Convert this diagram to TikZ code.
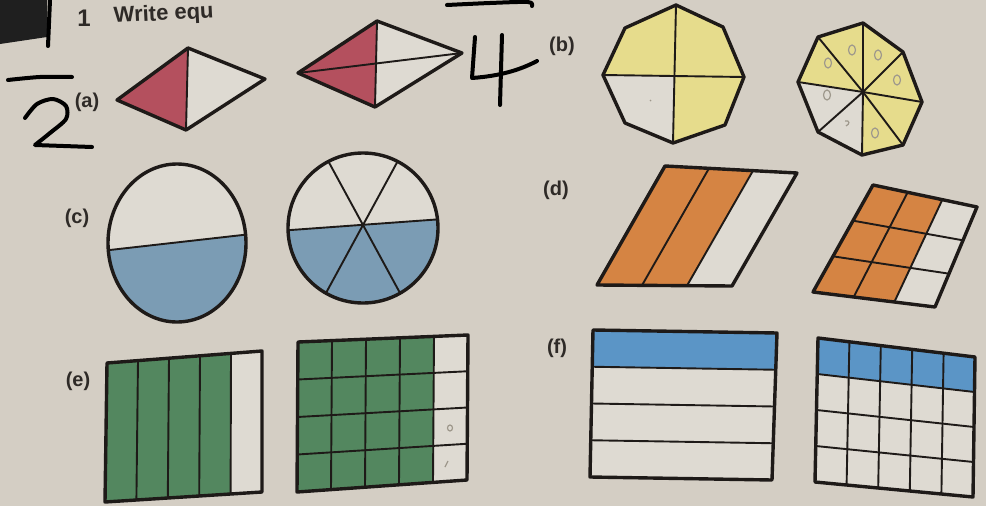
\documentclass[tikz,border=0pt]{standalone}
\usepackage{fontspec}
\setmainfont{Liberation Sans}
\usetikzlibrary{calc}
\definecolor{paper}{HTML}{D4CEC4}
\definecolor{cellw}{HTML}{DEDAD2}
\definecolor{ink}{HTML}{1E1A18}
\definecolor{rosered}{HTML}{B4505E}
\definecolor{octyel}{HTML}{E6DC8C}
\definecolor{cblue}{HTML}{7B9CB4}
\definecolor{dorange}{HTML}{D58443}
\definecolor{egreen}{HTML}{53875F}
\definecolor{fblue}{HTML}{5B95C6}
\definecolor{labelc}{HTML}{2E2A27}
\definecolor{pencil}{HTML}{9E988C}
\newcommand\mkgrid[3]{%
  \foreach \i in {0,...,#2}{\foreach \j in {0,...,#3}{%
    \pgfmathsetmacro\uu{\i/#2}\pgfmathsetmacro\vv{\j/#3}%
    \coordinate (#1-\i-\j) at ($($(#1TL)!\uu!(#1TR)$)!\vv!($(#1BL)!\uu!(#1BR)$)$);}}}
\begin{document}
\begin{tikzpicture}[x=1pt,y=-1pt,
  outline/.style={draw=ink,line width=3.4pt,line join=round},
  inner/.style={draw=ink,line width=1.9pt},
  hand/.style={draw=black,line width=4pt,line cap=round,line join=round},
  lab/.style={font=\fontsize{20}{20}\selectfont\bfseries,text=labelc,inner sep=0pt},
  pmark/.style={draw=pencil,line width=1.2pt}]
\useasboundingbox (0,0) rectangle (986,506);
\clip (0,0) rectangle (986,506);
\fill[paper] (0,0) rectangle (986,506);
% dark corner and header
\fill[black!88] (0,0) -- (47,0) -- (47,37) -- (0,44) -- cycle;
\node[font=\fontsize{24}{24}\selectfont\bfseries,text=labelc,anchor=base,inner sep=0pt] (num) at (84,27) {1};
\node[font=\fontsize{22}{22}\selectfont\bfseries,text=labelc,anchor=base west,inner sep=0pt,rotate=3] (title) at (114,23) {Write equ};
% handwriting
\draw[hand] (50,0) -- (48,46);
\draw[hand] plot[smooth] coordinates {(8,80) (40,77) (72,77)};
\draw[hand] plot[smooth] coordinates {(25,118) (37,104) (53,99) (66,106) (66,119) (50,133) (35,145)} -- (92,147);
\draw[hand] plot[smooth] coordinates {(447,5) (490,3) (528,2) (532,6)};
\draw[hand] (475,37) -- (472,78) .. controls (500,76) and (520,70) .. (537,61);
\draw[hand] (502,35) -- (500,105);
% labels
\node[lab] (la) at (87,102) {(a)};
\node[lab] (lb) at (562,46) {(b)};
\node[lab] (lc) at (77,218) {(c)};
\node[lab] (ld) at (556,190) {(d)};
\node[lab] (le) at (78,381) {(e)};
\node[lab] (lf) at (557,348) {(f)};
% (a) rhombi
\coordinate (a1L) at (117,100); \coordinate (a1T) at (188,48);
\coordinate (a1R) at (265,79);  \coordinate (a1B) at (186,130);
\fill[rosered] (a1L) -- (a1T) -- (a1B) -- cycle;
\fill[cellw] (a1T) -- (a1R) -- (a1B) -- cycle;
\draw[inner] (a1T) -- (a1B);
\draw[outline] (a1L) -- (a1T) -- (a1R) -- (a1B) -- cycle;
\coordinate (a2L) at (298,73); \coordinate (a2T) at (377,21);
\coordinate (a2R) at (462,53); \coordinate (a2B) at (375,107);
\fill[rosered] (a2L) -- (a2T) -- (a2B) -- cycle;
\fill[cellw] (a2T) -- (a2R) -- (a2B) -- cycle;
\draw[inner] (a2T) -- (a2B) (a2L) -- (a2R);
\draw[outline] (a2L) -- (a2T) -- (a2R) -- (a2B) -- cycle;
% (b) octagons
\coordinate (b1a) at (676,5);   \coordinate (b1b) at (723,27);
\coordinate (b1c) at (744,77);  \coordinate (b1d) at (725,125);
\coordinate (b1e) at (673,143); \coordinate (b1f) at (625,123);
\coordinate (b1g) at (603,75);  \coordinate (b1h) at (625,28);
\coordinate (b1o) at (675,76);
\fill[octyel] (b1a) -- (b1b) -- (b1c) -- (b1d) -- (b1e) -- (b1f) -- (b1g) -- (b1h) -- cycle;
\fill[cellw] (b1o) -- (b1g) -- (b1f) -- (b1e) -- cycle;
\draw[inner] (b1a) -- (b1e) (b1g) -- (b1c);
\draw[outline] (b1a) -- (b1b) -- (b1c) -- (b1d) -- (b1e) -- (b1f) -- (b1g) -- (b1h) -- cycle;
\draw[pmark] (650,100) -- (651,101);
\coordinate (b2a) at (863,23);  \coordinate (b2b) at (903,52);
\coordinate (b2c) at (922,102); \coordinate (b2d) at (903,145);
\coordinate (b2e) at (862,155); \coordinate (b2f) at (818,132);
\coordinate (b2g) at (798,82);  \coordinate (b2h) at (818,37);
\coordinate (b2o) at (863,92);
\fill[octyel] (b2a) -- (b2b) -- (b2c) -- (b2d) -- (b2e) -- (b2f) -- (b2g) -- (b2h) -- cycle;
\fill[cellw] (b2o) -- (b2g) -- (b2f) -- (b2e) -- cycle;
\foreach \v in {a,b,c,d,e,f,g,h}{\draw[inner] (b2o) -- (b2\v);}
\draw[outline] (b2a) -- (b2b) -- (b2c) -- (b2d) -- (b2e) -- (b2f) -- (b2g) -- (b2h) -- cycle;
\foreach \p in {(852,50),(878,55),(828,63),(897,80),(827,95),(875,133)}{%
  \draw[pmark] \p ellipse[x radius=3.5pt,y radius=5pt];}
\draw[pmark] (845,121) .. controls (850,120) and (850,124) .. (846,126);
% (c) circles
\coordinate (c1o) at (177,243);
\begin{scope}
  \clip (c1o) ellipse[x radius=69pt,y radius=79pt];
  \fill[cellw] (100,150) rectangle (260,330);
  \fill[cblue] (100,251.1) -- (255,233.6) -- (255,330) -- (100,330) -- cycle;
  \draw[inner] (100,251.1) -- (255,233.6);
\end{scope}
\draw[outline] (c1o) ellipse[x radius=69pt,y radius=79pt];
\coordinate (c2o) at (363,228);
\coordinate (c2x) at (363,225);
\begin{scope}
  \clip (c2o) circle[radius=75pt];
  \fill[cellw] (280,140) rectangle (450,310);
  \fill[cblue] (280,230.8) -- (450,218.5) -- (450,310) -- (280,310) -- cycle;
  \draw[inner] (280,230.8) -- (450,218.5);
  \draw[inner] ($(c2x)+(-43,-79)$) -- ($(c2x)+(43,79)$);
  \draw[inner] ($(c2x)+(43,-79)$) -- ($(c2x)+(-43,79)$);
\end{scope}
\draw[outline] (c2o) circle[radius=75pt];
% (d) parallelograms
\coordinate (d1TL) at (665,166); \coordinate (d1TR) at (797,173);
\coordinate (d1BR) at (732,286); \coordinate (d1BL) at (597,285);
\mkgrid{d1}{3}{1}
\fill[dorange] (d1-0-0) -- (d1-2-0) -- (d1-2-1) -- (d1-0-1) -- cycle;
\fill[cellw] (d1-2-0) -- (d1-3-0) -- (d1-3-1) -- (d1-2-1) -- cycle;
\foreach \i in {1,2}{\draw[inner] (d1-\i-0) -- (d1-\i-1);}
\draw[outline] (d1TL) -- (d1TR) -- (d1BR) -- (d1BL) -- cycle;
\coordinate (d2TL) at (873,185); \coordinate (d2TR) at (977,207);
\coordinate (d2BR) at (935,307); \coordinate (d2BL) at (813,292);
\mkgrid{d2}{3}{3}
\fill[dorange] (d2-0-0) -- (d2-2-0) -- (d2-2-3) -- (d2-0-3) -- cycle;
\fill[cellw] (d2-2-0) -- (d2-3-0) -- (d2-3-3) -- (d2-2-3) -- cycle;
\foreach \i in {1,2}{\draw[inner] (d2-\i-0) -- (d2-\i-3);}
\foreach \j in {1,2}{\draw[inner] (d2-0-\j) -- (d2-3-\j);}
\draw[outline] (d2TL) -- (d2TR) -- (d2BR) -- (d2BL) -- cycle;
% (e) rectangles
\coordinate (e1TL) at (107,363); \coordinate (e1TR) at (262,351);
\coordinate (e1BR) at (262,492); \coordinate (e1BL) at (105,502);
\mkgrid{e1}{5}{1}
\fill[egreen] (e1-0-0) -- (e1-4-0) -- (e1-4-1) -- (e1-0-1) -- cycle;
\fill[cellw] (e1-4-0) -- (e1-5-0) -- (e1-5-1) -- (e1-4-1) -- cycle;
\foreach \i in {1,...,4}{\draw[inner] (e1-\i-0) -- (e1-\i-1);}
\draw[outline] (e1TL) -- (e1TR) -- (e1BR) -- (e1BL) -- cycle;
\coordinate (e2TL) at (298,342); \coordinate (e2TR) at (468,335);
\coordinate (e2BR) at (467,480); \coordinate (e2BL) at (297,492);
\mkgrid{e2}{5}{4}
\fill[egreen] (e2-0-0) -- (e2-4-0) -- (e2-4-4) -- (e2-0-4) -- cycle;
\fill[cellw] (e2-4-0) -- (e2-5-0) -- (e2-5-4) -- (e2-4-4) -- cycle;
\foreach \i in {1,...,4}{\draw[inner] (e2-\i-0) -- (e2-\i-4);}
\foreach \j in {1,2,3}{\draw[inner] (e2-0-\j) -- (e2-5-\j);}
\draw[outline] (e2TL) -- (e2TR) -- (e2BR) -- (e2BL) -- cycle;
\draw[pmark] (450,428) ellipse[x radius=2.5pt,y radius=3pt];
\draw[pmark] (448,461) -- (445,467);
% (f) rectangles
\coordinate (f1TL) at (593,330); \coordinate (f1TR) at (777,333);
\coordinate (f1BR) at (772,480); \coordinate (f1BL) at (590,477);
\mkgrid{f1}{1}{4}
\fill[fblue] (f1-0-0) -- (f1-1-0) -- (f1-1-1) -- (f1-0-1) -- cycle;
\fill[cellw] (f1-0-1) -- (f1-1-1) -- (f1-1-4) -- (f1-0-4) -- cycle;
\foreach \j in {1,2,3}{\draw[inner] (f1-0-\j) -- (f1-1-\j);}
\draw[outline] (f1TL) -- (f1TR) -- (f1BR) -- (f1BL) -- cycle;
\coordinate (f2TL) at (818,338); \coordinate (f2TR) at (975,357);
\coordinate (f2BR) at (973,497); \coordinate (f2BL) at (815,482);
\mkgrid{f2}{5}{4}
\fill[fblue] (f2-0-0) -- (f2-5-0) -- (f2-5-1) -- (f2-0-1) -- cycle;
\fill[cellw] (f2-0-1) -- (f2-5-1) -- (f2-5-4) -- (f2-0-4) -- cycle;
\foreach \i in {1,...,4}{\draw[inner] (f2-\i-0) -- (f2-\i-4);}
\foreach \j in {1,2,3}{\draw[inner] (f2-0-\j) -- (f2-5-\j);}
\draw[outline] (f2TL) -- (f2TR) -- (f2BR) -- (f2BL) -- cycle;
\end{tikzpicture}
\end{document}
